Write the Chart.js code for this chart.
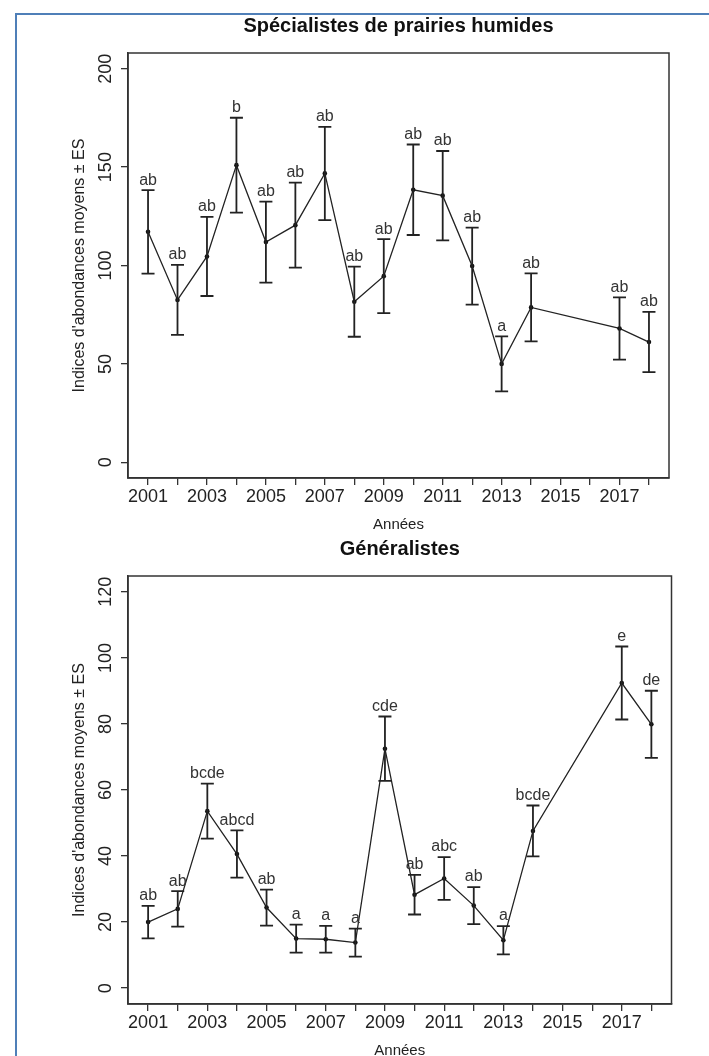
<!DOCTYPE html>
<html>
<head>
<meta charset="utf-8">
<script src="https://cdn.jsdelivr.net/npm/chart.js@4/dist/chart.umd.min.js"></script>
<style>
  html, body { margin: 0; padding: 0; background: #fff; width: 709px; height: 1056px; overflow: hidden; }
  #frame { position: absolute; left: 15px; top: 13px; right: 0; bottom: 0;
           border-left: 2px solid #4f7fb8; border-top: 2px solid #4f7fb8; }
  canvas { position: absolute; left: 0; }
  #spec { top: 0; }
  #gen { top: 534px; }
</style>
</head>
<body>
<div id="frame"></div>
<canvas id="spec" width="709" height="534"></canvas>
<canvas id="gen" width="709" height="526"></canvas>
<script>
// Survey years (no sampling in 2015 and 2016)
const years = [2001, 2002, 2003, 2004, 2005, 2006, 2007, 2008, 2009, 2010, 2011, 2012, 2013, 2014, 2017, 2018];
const yearTicks = [2001, 2002, 2003, 2004, 2005, 2006, 2007, 2008, 2009, 2010, 2011, 2012, 2013, 2014, 2015, 2016, 2017, 2018];

// Wet-meadow specialists: mean abundance index, standard error, group letters
const specMeans = [117.1, 82.5, 104.6, 151.0, 111.9, 120.5, 146.8, 81.6, 94.6, 138.5, 135.5, 99.7, 50.0, 78.7, 68.0, 61.1];
const specSE = [21.2, 17.8, 20.1, 24.1, 20.6, 21.6, 23.7, 17.8, 18.8, 23.0, 22.7, 19.6, 14.0, 17.3, 15.8, 15.3];
const specLetters = ['ab', 'ab', 'ab', 'b', 'ab', 'ab', 'ab', 'ab', 'ab', 'ab', 'ab', 'ab', 'a', 'ab', 'ab', 'ab'];
const specYTicks = [0, 50, 100, 150, 200];

// Generalists: mean abundance index, standard error, group letters
const genMeans = [20.0, 24.0, 53.6, 40.6, 24.4, 15.0, 14.8, 13.8, 72.5, 28.3, 33.2, 25.0, 14.5, 47.6, 92.4, 79.9];
const genSE = [4.9, 5.35, 8.35, 7.15, 5.45, 4.25, 4.05, 4.25, 9.75, 6.0, 6.5, 5.6, 4.3, 7.7, 11.05, 10.15];
const genLetters = ['ab', 'ab', 'bcde', 'abcd', 'ab', 'a', 'a', 'a', 'cde', 'ab', 'abc', 'ab', 'a', 'bcde', 'e', 'de'];
const genYTicks = [0, 20, 40, 60, 80, 100, 120];

const FONT = "'Liberation Sans', Arial, sans-serif";
const INK = '#222';
const AXIS = '#333';

// Mean ± SE whiskers with caps, and the letter above each upper cap
const errorBars = {
  id: 'errorBars',
  afterDatasetsDraw(chart) {
    const { ctx, scales: { x, y } } = chart;
    const ds = chart.data.datasets[0];
    ctx.save();
    ctx.strokeStyle = INK;
    ctx.lineWidth = 1.8;
    ctx.font = '16px ' + FONT;
    ctx.fillStyle = '#333';
    ctx.textAlign = 'center';
    ctx.textBaseline = 'middle';
    ds.data.forEach((pt, i) => {
      const px = x.getPixelForValue(pt.x);
      const hi = y.getPixelForValue(pt.y + ds.se[i]);
      const lo = y.getPixelForValue(pt.y - ds.se[i]);
      ctx.beginPath();
      ctx.moveTo(px, hi); ctx.lineTo(px, lo);
      ctx.moveTo(px - 6.5, hi); ctx.lineTo(px + 6.5, hi);
      ctx.moveTo(px - 6.5, lo); ctx.lineTo(px + 6.5, lo);
      ctx.stroke();
      ctx.fillText(ds.letters[i], px, hi - 10);
    });
    ctx.restore();
  }
};

// Closed box around the plotting region
const plotBox = {
  id: 'plotBox',
  afterDraw(chart) {
    const { ctx, chartArea: a } = chart;
    ctx.save();
    ctx.strokeStyle = AXIS;
    ctx.lineWidth = 1.5;
    ctx.strokeRect(a.left, a.top, a.right - a.left, a.bottom - a.top);
    ctx.restore();
  }
};

function makePanel(canvasId, cfg) {
  const tickGrid = { display: true, drawOnChartArea: false, drawTicks: true, tickLength: 7, color: AXIS, lineWidth: 1.3 };
  const border = { display: true, color: AXIS, width: 1.5 };
  return new Chart(document.getElementById(canvasId), {
    type: 'line',
    data: {
      datasets: [{
        data: years.map((yr, i) => ({ x: yr, y: cfg.means[i] })),
        se: cfg.se,
        letters: cfg.letters,
        borderColor: INK,
        borderWidth: 1.3,
        pointRadius: 2.3,
        pointBackgroundColor: '#111',
        pointBorderWidth: 0,
        tension: 0
      }]
    },
    options: {
      responsive: false,
      animation: false,
      layout: { padding: { left: 70, right: cfg.padRight, top: 0, bottom: 0 } },
      plugins: {
        legend: { display: false },
        tooltip: { enabled: false },
        title: {
          display: true,
          text: cfg.title,
          fullSize: false,
          color: '#111',
          font: { family: FONT, size: 20, weight: 'bold' },
          padding: cfg.titlePad
        }
      },
      scales: {
        x: {
          type: 'linear',
          min: 2000.32,
          max: 2018.68,
          afterBuildTicks: s => { s.ticks = yearTicks.map(v => ({ value: v })); },
          afterFit: s => { s.height = 56; },
          ticks: {
            autoSkip: false, maxRotation: 0, minRotation: 0, padding: 1,
            color: INK, font: { family: FONT, size: 18 },
            callback: v => (v % 2 === 1 ? String(v) : '')
          },
          grid: tickGrid,
          border: border,
          title: { display: true, text: 'Années', color: INK, font: { family: FONT, size: 15 }, padding: 0 }
        },
        y: {
          type: 'linear',
          min: cfg.yMin,
          max: cfg.yMax,
          afterBuildTicks: s => { s.ticks = cfg.yTicks.map(v => ({ value: v })); },
          afterFit: s => { s.width = 58; },
          ticks: {
            minRotation: 90, maxRotation: 90, crossAlign: 'center', padding: 0,
            color: INK, font: { family: FONT, size: 18 }
          },
          grid: tickGrid,
          border: border,
          title: {
            display: true, text: "Indices d'abondances moyens ± ES",
            color: INK, font: { family: FONT, size: 16 }, padding: 0
          }
        }
      }
    },
    plugins: [errorBars, plotBox]
  });
}

makePanel('spec', {
  title: 'Spécialistes de prairies humides',
  titlePad: { top: 14, bottom: 15 },
  means: specMeans, se: specSE, letters: specLetters,
  yTicks: specYTicks, yMin: -8, yMax: 208, padRight: 40
});

makePanel('gen', {
  title: 'Généralistes',
  titlePad: { top: 3, bottom: 15 },
  means: genMeans, se: genSE, letters: genLetters,
  yTicks: genYTicks, yMin: -4.8, yMax: 124.8, padRight: 37.5
});
</script>
</body>
</html>
